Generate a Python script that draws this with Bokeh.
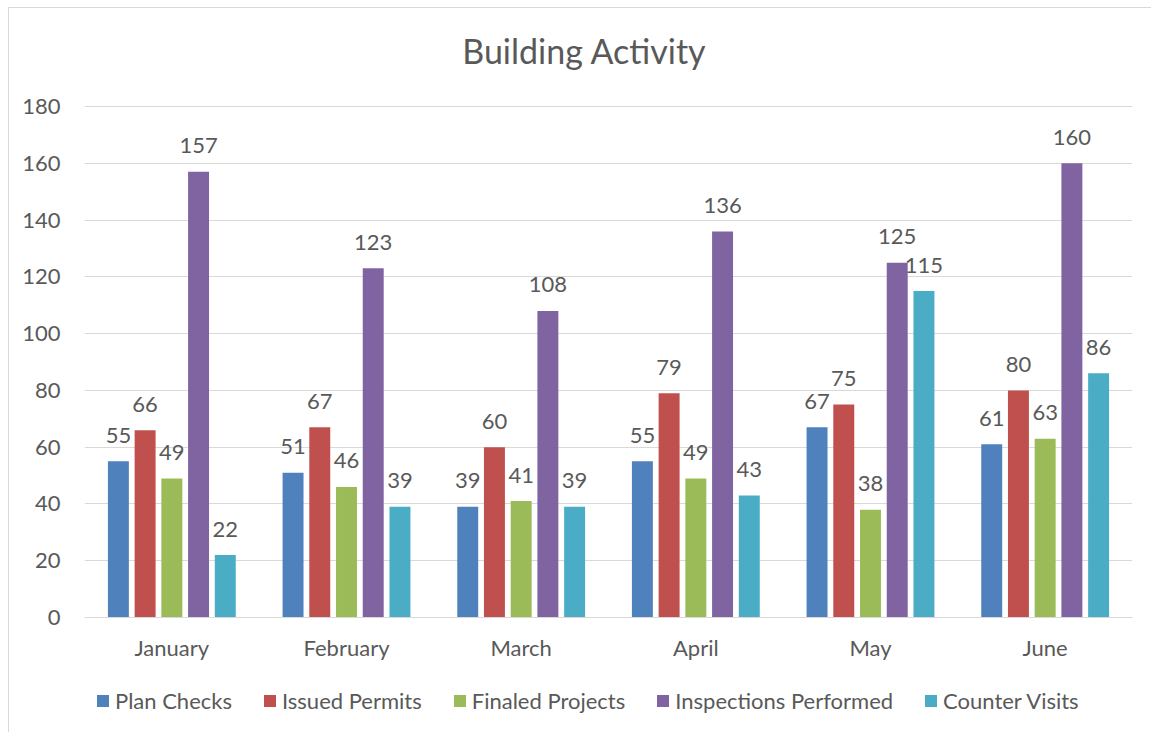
from bokeh.plotting import figure
from bokeh.models import ColumnDataSource, FactorRange, Range1d, Legend, LegendItem, FixedTicker, Label
from bokeh.transform import dodge
from bokeh.core.properties import value
from bokeh.embed import file_html
from bokeh.resources import INLINE

title_text = "Building Activity"
months = ["January", "February", "March", "April", "May", "June"]
series_names = ["Plan Checks", "Issued Permits", "Finaled Projects", "Inspections Performed", "Counter Visits"]
plan_checks = [55, 51, 39, 55, 67, 61]
issued_permits = [66, 67, 60, 79, 75, 80]
finaled_projects = [49, 46, 41, 49, 38, 63]
inspections = [157, 123, 108, 136, 125, 160]
counter_visits = [22, 39, 39, 43, 115, 86]
y_ticks = [0, 20, 40, 60, 80, 100, 120, 140, 160, 180]

colors = ["#4F81BD", "#C0504D", "#9BBB59", "#8064A2", "#4BACC6"]
series_values = [plan_checks, issued_permits, finaled_projects, inspections, counter_visits]
offsets = [-0.306, -0.153, 0.0, 0.153, 0.306]

FONT = "Lato"
TXT = "#595959"
FS = "22px"

# frame covers the whole chart area: room above 180 for the title,
# room below 0 for the category labels and the legend
p = figure(x_range=FactorRange(*months, range_padding=0), y_range=Range1d(-38.04, 214.52),
           width=1143, height=725, output_backend="svg", toolbar_location=None,
           min_border_left=75, min_border_right=20, min_border_top=0, min_border_bottom=8)

p.styles = {"margin-left": "8px", "margin-top": "7px",
            "border-left": "1px solid #d9d9d9", "border-top": "1px solid #d9d9d9"}

p.add_layout(Label(x=500, y=675, x_units="screen", y_units="screen", text=title_text,
                   text_align="center", text_baseline="middle", text_font=FONT,
                   text_font_size="34px", text_color=TXT))

p.outline_line_color = None

p.xgrid.grid_line_color = None
p.ygrid.grid_line_color = "#d9d9d9"
p.ygrid.grid_line_width = 1
p.yaxis.ticker = FixedTicker(ticks=y_ticks)

p.yaxis.axis_line_color = None
p.yaxis.major_tick_line_color = None
p.yaxis.minor_tick_line_color = None
p.yaxis.major_label_text_font = FONT
p.yaxis.major_label_text_font_size = FS
p.yaxis.major_label_text_color = TXT
p.yaxis.major_label_standoff = 18

p.xaxis.fixed_location = 0
p.xaxis.axis_line_color = "#d9d9d9"
p.xaxis.axis_line_width = 1
p.xaxis.major_tick_line_color = None
p.xaxis.minor_tick_line_color = None
p.xaxis.major_label_text_font = FONT
p.xaxis.major_label_text_font_size = FS
p.xaxis.major_label_text_color = TXT
p.xaxis.major_label_standoff = 10

items = []
for name, vals, col, off in zip(series_names, series_values, colors, offsets):
    src = ColumnDataSource(dict(month=months, val=vals, lab=[str(v) for v in vals]))
    r = p.vbar(x=dodge("month", off, range=p.x_range), top="val", width=0.12, source=src,
               fill_color=col, line_color=None)
    p.text(x=dodge("month", off, range=p.x_range), y="val", text="lab", source=src,
           text_align="center", text_baseline="alphabetic", y_offset=-26,
           text_font=value(FONT), text_font_size=FS, text_color=TXT)
    items.append(LegendItem(label=name, renderers=[r]))

legend = Legend(items=items, orientation="horizontal", location=(11, 11),
                glyph_width=15, glyph_height=15, label_standoff=5, spacing=30,
                label_text_font=FONT, label_text_font_size=FS, label_text_color=TXT,
                border_line_color=None, background_fill_alpha=0, padding=0, margin=0)
p.add_layout(legend, "center")

html = file_html(p, INLINE)
open("out.html", "w").write(html)
